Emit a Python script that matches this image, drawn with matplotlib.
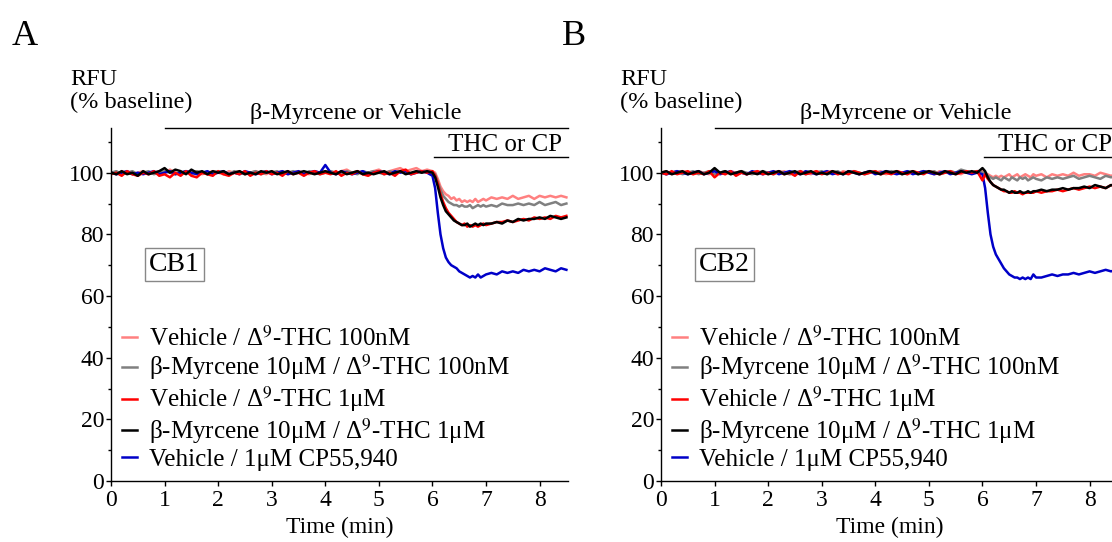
import numpy as np
import matplotlib
matplotlib.use("Agg")
import matplotlib.pyplot as plt
from matplotlib import font_manager


def pick_font(names):
    for n in names:
        try:
            font_manager.findfont(n, fallback_to_default=False)
            return n
        except ValueError:
            pass
    return 'DejaVu Serif'


serif = pick_font(['Liberation Serif', 'Times New Roman', 'Nimbus Roman', 'STIXGeneral'])
plt.rcParams['font.family'] = [serif, 'STIXGeneral', 'DejaVu Serif']
plt.rcParams['mathtext.fontset'] = 'stix'

# sampling grid (min): 0.1 min steps, finer around the drug addition
t = np.round(np.r_[np.arange(0.0, 5.95, 0.1), np.arange(6.0, 6.99, 0.05), np.arange(7.0, 8.55, 0.1)], 2)

labels = ["Vehicle / \u0394$^{9}$-THC 100nM",
          "\u03b2-Myrcene 10\u03bcM / \u0394$^{9}$-THC 100nM",
          "Vehicle / \u0394$^{9}$-THC 1\u03bcM",
          "\u03b2-Myrcene 10\u03bcM / \u0394$^{9}$-THC 1\u03bcM",
          "Vehicle / 1\u03bcM CP55,940"]
colors = ['#ff8080', '#808080', '#ff0000', '#000000', '#0000c8']

# ---- panel A (CB1) ----
pinkA = [100, 99.5, 100.5, 100, 99.5, 100, 100.5, 99.5, 100, 100.5,
         100, 101, 100, 99.5, 100.5, 100, 100.5, 99.5, 100, 100.5,
         100, 99.5, 100.5, 100, 100.5, 99.5, 100, 100.5, 100, 99.5,
         100.5, 100, 100.5, 99.5, 100, 100.5, 100, 99.5, 100.5, 100,
         100.5, 100, 99.5, 100.5, 101, 100, 100.5, 99.5, 100, 100.5,
         101, 100, 100.5, 101, 101.5, 100.5, 101, 101.5, 100.5, 101,
         100.5, 100, 98, 95.5, 94, 93, 92.5, 91.5, 92, 91,
         91.5, 90.5, 91, 90.5, 91, 90.5, 91.5, 90.5, 91, 91.5,
         91, 92, 91.5, 92, 91.5, 92.5, 91.5, 92, 92.5, 91.5,
         92.5, 92, 92.5, 92, 92.5, 92]
grayA = [100, 100.5, 99.5, 100, 100.5, 99.5, 100, 100.5, 99.5, 100,
         100.5, 100, 99.5, 100, 100.5, 99.5, 100.5, 100, 99.5, 100,
         100.5, 100, 99.5, 100.5, 100, 99.5, 100, 100.5, 99.5, 100,
         100, 100.5, 99.5, 100, 100.5, 100, 99.5, 100.5, 100, 99.5,
         100, 100.5, 100, 99.5, 100.5, 100, 99.5, 100.5, 100, 100.5,
         100, 99.5, 100.5, 100, 100.5, 100, 99.5, 100.5, 100, 100.5,
         100, 99.5, 97, 94.5, 92.5, 91.5, 90.5, 90, 89.5, 89.5,
         89, 89.5, 89, 89, 89.5, 88.5, 89, 89.5, 89, 89.5,
         89, 89.5, 89, 90, 89.5, 89.5, 90, 89.5, 90, 89.5,
         90.5, 89.5, 90, 90.5, 89.5, 90]
redA = [99.5, 100, 99, 100.5, 99.5, 99, 100, 99.5, 100.5, 99,
        99.5, 98.5, 100, 99, 100.5, 99, 98.5, 100, 99.5, 99,
        100.5, 99.5, 99, 100, 99.5, 100.5, 99, 100, 99.5, 100.5,
        99.5, 100, 99, 100.5, 99.5, 100, 99, 100, 100.5, 99.5,
        100, 99.5, 100.5, 99, 100, 99.5, 100.5, 99.5, 99, 100,
        100.5, 99.5, 100, 99, 100.5, 101, 99.5, 100, 100.5, 100,
        100.5, 99, 96.5, 93, 90.5, 88.5, 87, 86, 85, 84,
        83.5, 83, 83.5, 82.5, 83, 82.5, 83, 82.5, 83, 83.5,
        83, 83.5, 84, 84, 84.5, 84, 84.5, 85, 84.5, 85.5,
        85, 85.5, 85, 86, 85.5, 86]
blackA = [100, 99.5, 100.5, 99.5, 100, 99, 100.5, 99.5, 100, 100.5,
          101.5, 100, 101, 100.5, 99.5, 101, 100, 100.5, 99.5, 100.5,
          100, 100.5, 99.5, 100, 100.5, 99.5, 100, 99.5, 100.5, 100,
          100.5, 99.5, 100, 100.5, 99.5, 100, 100.5, 100, 99.5, 100,
          100.5, 100, 99.5, 100.5, 99.5, 100, 100.5, 99.5, 100, 99.5,
          100, 100.5, 99.5, 100, 100.5, 99.5, 100, 100.5, 100, 100.5,
          100, 98.5, 95.5, 92, 89.5, 87.5, 86.5, 85.5, 84.5, 84,
          83.5, 83, 83, 83.5, 82.5, 83, 83.5, 83, 83.5, 83,
          83.5, 83.5, 84, 83.5, 84.5, 84, 85, 84.5, 85, 85,
          85.5, 85, 86, 85.5, 85, 85.5]
blueA = [100, 99.5, 100, 100.5, 99.5, 100, 99.5, 100, 100.5, 99.5,
         100, 100.5, 99.5, 100, 100.5, 100, 99.5, 100, 100.5, 99.5,
         100, 100.5, 99.5, 100, 99.5, 100.5, 100, 99.5, 100, 100.5,
         99.5, 100, 100.5, 99.5, 100, 100.5, 99.5, 100, 100.5, 100,
         102.5, 100, 99.5, 100.5, 100, 99.5, 100, 100.5, 99.5, 100,
         100.5, 100, 99.5, 100.5, 100, 100.5, 99.5, 100, 100.5, 100,
         99, 95, 87, 80, 75.5, 72.5, 71, 70, 69.5, 69,
         68, 67.5, 67, 66.5, 66, 66.5, 66, 67, 66, 66.5,
         67, 67.5, 67, 68, 67.5, 68, 67.5, 68.5, 68, 68.5,
         68, 69, 68.5, 68, 69, 68.5]

# ---- panel B (CB2) ----
pinkB = [100, 100.5, 99.5, 100, 100.5, 100, 99.5, 100.5, 100, 99.5,
         100.5, 100, 99.5, 100.5, 100, 100.5, 99.5, 100, 100.5, 100,
         99.5, 100.5, 100, 100.5, 99.5, 100, 100.5, 100, 99.5, 100.5,
         100, 100.5, 100, 99.5, 100.5, 100, 100.5, 99.5, 100, 100.5,
         100, 100.5, 99.5, 100, 100.5, 100, 99.5, 100.5, 100, 100.5,
         100, 99.5, 100.5, 100, 100.5, 100, 99.5, 100.5, 100, 100.5,
         100.5, 100, 99.5, 99, 98.5, 99, 98.5, 99, 98.5, 99,
         99.5, 98.5, 99, 99.5, 98.5, 99, 99.5, 99, 98.5, 99.5,
         99, 99.5, 98.5, 99.5, 99, 99.5, 99, 100, 99, 99.5,
         99.5, 99, 100, 99.5, 99, 99.5]
grayB = [100, 99.5, 100, 100.5, 99.5, 100, 100.5, 99.5, 100, 100.5,
         99.5, 100, 100.5, 99.5, 100, 100.5, 100, 99.5, 100, 100.5,
         100, 99.5, 100.5, 100, 99.5, 100, 100.5, 99.5, 100, 100,
         100.5, 99.5, 100, 100.5, 99.5, 100, 100.5, 100, 99.5, 100,
         100.5, 99.5, 100, 100.5, 100, 99.5, 100.5, 100, 99.5, 100.5,
         100, 100.5, 99.5, 100, 100.5, 100, 101, 100.5, 100, 100.5,
         100, 100, 99, 98.5, 98, 98.5, 98, 97.5, 98.5, 98,
         97.5, 98.5, 98, 97.5, 98.5, 98, 98.5, 97.5, 98, 98.5,
         98, 97.5, 98.5, 98, 98.5, 98, 98.5, 99, 98, 98.5,
         99, 98.5, 98, 99, 98.5, 99]
redB = [100, 99.5, 100.5, 99.5, 100, 100.5, 99.5, 100, 99.5, 100.5,
        98.5, 100, 99.5, 100.5, 99, 100, 99.5, 100, 100.5, 99.5,
        100, 99.5, 100.5, 99.5, 100, 99, 100.5, 99.5, 100, 100.5,
        99.5, 100, 100.5, 99.5, 100, 99.5, 100.5, 100, 99.5, 100,
        100.5, 99.5, 100, 99.5, 100.5, 100, 99.5, 100.5, 100, 99.5,
        100.5, 100, 99.5, 100, 100.5, 99.5, 100, 100.5, 100, 100.5,
        97.5, 99.5, 98, 97, 96, 95.5, 95, 94.5, 94, 94,
        93.5, 93.5, 94, 93.5, 93.5, 93, 93.5, 93.5, 93.5, 93.5,
        94, 93.5, 94, 94, 94.5, 94, 94.5, 95, 94.5, 95,
        95.5, 95, 95.5, 95, 96, 95.5]
blackB = [100, 100.5, 99.5, 100, 100.5, 99.5, 100, 100.5, 99.5, 100,
          101.5, 100, 100.5, 99.5, 100, 100.5, 99.5, 100, 99.5, 100.5,
          99.5, 100, 100.5, 99.5, 100, 100.5, 99.5, 100, 100.5, 99.5,
          100, 99.5, 100.5, 100, 99.5, 100.5, 100, 99.5, 100, 100.5,
          100, 99.5, 100.5, 100, 100.5, 99.5, 100, 100.5, 99.5, 100,
          100.5, 100, 99.5, 100.5, 100, 99.5, 100.5, 100, 100.5, 100,
          101.5, 100.5, 98.5, 97, 96, 95.5, 95, 94.5, 94.5, 94,
          93.5, 94, 93.5, 93.5, 94, 93.5, 93.5, 94, 93.5, 94,
          94, 94.5, 94, 94.5, 94.5, 95, 94.5, 95, 95, 95.5,
          95, 96, 95.5, 95, 96, 95.5]
blueB = [100, 99.5, 100, 100.5, 100, 99.5, 100, 100.5, 99.5, 100,
         100.5, 99.5, 100, 100.5, 99.5, 100, 99.5, 100.5, 100, 99.5,
         100, 100.5, 99.5, 100, 100.5, 100, 99.5, 100.5, 100, 99.5,
         100, 100.5, 99.5, 100, 99.5, 100.5, 100, 99.5, 100, 100.5,
         99.5, 100, 100.5, 100, 99.5, 100, 100.5, 99.5, 100, 100.5,
         100, 99.5, 100, 100.5, 99.5, 100, 100.5, 100, 99.5, 100,
         99.5, 95, 87, 80, 76, 73.5, 72, 70.5, 69, 68,
         67, 66.5, 66, 66, 65.5, 66, 65.5, 66, 65.5, 67,
         66, 66, 66.5, 67, 66.5, 67, 67, 67.5, 67, 67.5,
         68, 67.5, 68, 68.5, 68, 68.5]

panels = [("A", "CB1", [pinkA, grayA, redA, blackA, blueA]),
          ("B", "CB2", [pinkB, grayB, redB, blackB, blueB])]
draw_order = [0, 1, 4, 2, 3]


def main():
    fig = plt.figure(figsize=(11.12, 5.42), dpi=100)
    lefts = [111 / 1112, 661 / 1112]
    fig_x = [12 / 1112, 562 / 1112]
    xmax, ymax = 8.53, 114.5

    for i, (letter, receptor, series) in enumerate(panels):
        ax = fig.add_axes([lefts[i], 61 / 542, 457 / 1112, 353 / 542])
        for k in draw_order:
            ax.plot(t, series[k], color=colors[k], lw=1.8, label=labels[k])

        ax.set_xlim(0, xmax)
        ax.set_ylim(0, ymax)
        ax.set_xticks(range(0, 9))
        ax.set_yticks(range(0, 101, 20))
        ax.set_yticks(range(10, 111, 20), minor=True)
        ax.spines['top'].set_visible(False)
        ax.spines['right'].set_visible(False)
        for s in ['left', 'bottom']:
            ax.spines[s].set_linewidth(1.0)
        ax.tick_params(which='major', direction='out', length=3.5, width=1,
                       labelsize=17, pad=1.5)
        ax.tick_params(axis='x', pad=3)
        ax.tick_params(which='minor', direction='out', length=2, width=1)
        ax.set_xlabel("Time (min)", fontsize=17, labelpad=4)

        # drug application bars
        ax.plot([1, xmax], [ymax, ymax], color='k', lw=1, clip_on=False)
        ax.text(4.57, 117.3, "\u03b2-Myrcene or Vehicle", ha='center',
                va='baseline', fontsize=17.5)
        ax.plot([6.03, xmax], [105, 105], color='k', lw=1, clip_on=False)
        ax.text(7.35, 107, "THC or CP", ha='center', va='baseline', fontsize=18)

        ax.text(1.19, 70.2, receptor, ha='center', va='center', fontsize=20,
                bbox=dict(boxstyle='square,pad=0.15', fc='white', ec='#888888', lw=1))

        handles, labs = ax.get_legend_handles_labels()
        order = [draw_order.index(k) for k in range(5)]
        ax.legend([handles[j] for j in order], [labs[j] for j in order],
                  loc='upper left', bbox_to_anchor=(0.025, 0.44), frameon=False,
                  fontsize=18, handlelength=0.6, handletextpad=0.45,
                  labelspacing=0.08, borderpad=0, borderaxespad=0)

        fig.text(fig_x[i], (542 - 45) / 542, letter, fontsize=26, va='baseline')
        fig.text(lefts[i] - 41 / 1112, (542 - 85) / 542, "RFU", fontsize=17.5,
                 va='baseline')
        fig.text(lefts[i] - 41 / 1112, (542 - 108) / 542, "(% baseline)",
                 fontsize=17.5, va='baseline')

    fig.savefig("out.png", dpi=100)


if __name__ == '__main__':
    main()
